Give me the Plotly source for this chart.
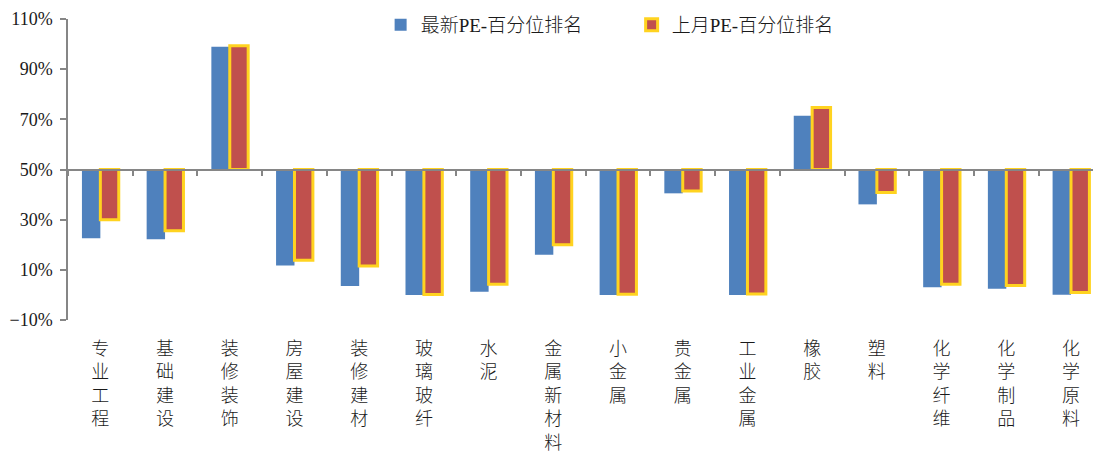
import plotly.graph_objects as go

categories = ['专业工程', '基础建设', '装修装饰', '房屋建设', '装修建材', '玻璃玻纤', '水泥', '金属新材料',
              '小金属', '贵金属', '工业金属', '橡胶', '塑料', '化学纤维', '化学制品', '化学原料']
latest = [22.6, 22.2, 98.9, 11.7, 3.6, 0.0, 1.3, 16.0, 0.0, 40.5, 0.0, 71.4, 36.1, 3.1, 2.5, 0.1]
last_month = [30.0, 25.6, 99.3, 13.8, 11.5, 0.2, 4.3, 20.0, 0.3, 41.4, 0.4, 74.7, 40.8, 4.3, 3.8, 1.0]
series_names = ['最新PE-百分位排名', '上月PE-百分位排名']
baseline = 50
y_ticks = [-10, 10, 30, 50, 70, 90, 110]
y_tick_text = ['\u221210%', '10%', '30%', '50%', '70%', '90%', '110%']

labels = ['<br>'.join(list(c)) for c in categories]

CJK = 'Liberation Serif, Noto Sans CJK SC'
TXT = '#1a1a1a'
AX = '#868686'

fig = go.Figure()
fig.add_trace(go.Bar(
    x=labels, y=[v - baseline for v in latest], base=baseline,
    name=series_names[0], marker=dict(color='#4F81BD', line=dict(width=0)),
))
fig.add_trace(go.Bar(
    x=labels, y=[v - baseline for v in last_month], base=baseline,
    name=series_names[1], marker=dict(color='#C0504D', line=dict(color='#FFD320', width=3)),
))
# invisible helper trace so the baseline axis (x2) is drawn
fig.add_trace(go.Scatter(
    x=labels, y=[baseline] * len(labels), xaxis='x2', mode='markers',
    marker=dict(opacity=0), showlegend=False, hoverinfo='skip',
))

rng = [-0.5, 15.34]
fig.update_layout(
    width=1093, height=461,
    margin=dict(l=68, r=0, t=19, b=141, autoexpand=False),
    paper_bgcolor='white', plot_bgcolor='white',
    barmode='group', bargap=0.431, bargroupgap=0,
    showlegend=True,
    legend=dict(orientation='h', x=0.305, xanchor='left', y=0.98, yanchor='middle',
                font=dict(family=CJK, size=19, color=TXT, weight=300), bgcolor='rgba(0,0,0,0)',
                entrywidth=206, itemwidth=30),
    xaxis=dict(type='category', range=rng, showline=False, ticks='', showgrid=False,
               tickfont=dict(family=CJK, size=18, color=TXT, weight=300), ticklabelstandoff=16,
               tickangle=0, automargin=False),
    xaxis2=dict(type='category', overlaying='x', anchor='free', position=0.5, side='bottom',
                range=rng, matches='x', showline=True, linecolor=AX, linewidth=2,
                ticks='outside', tickson='boundaries', ticklen=5, tickwidth=1.5, tickcolor=AX,
                showticklabels=False, showgrid=False),
    yaxis=dict(range=[-10, 110], tickmode='array', tickvals=y_ticks, ticktext=y_tick_text,
               showgrid=False, zeroline=False, showline=True, linecolor=AX, linewidth=1.5,
               ticks='outside', ticklen=6, tickwidth=1.5, tickcolor=AX, automargin=False,
               ticklabelstandoff=4,
               tickfont=dict(family='Liberation Serif', size=18, color=TXT)),
)

fig.write_html('out.html', config={'displayModeBar': False},
               post_script="document.body.style.margin='0';document.body.style.overflow='hidden';")
